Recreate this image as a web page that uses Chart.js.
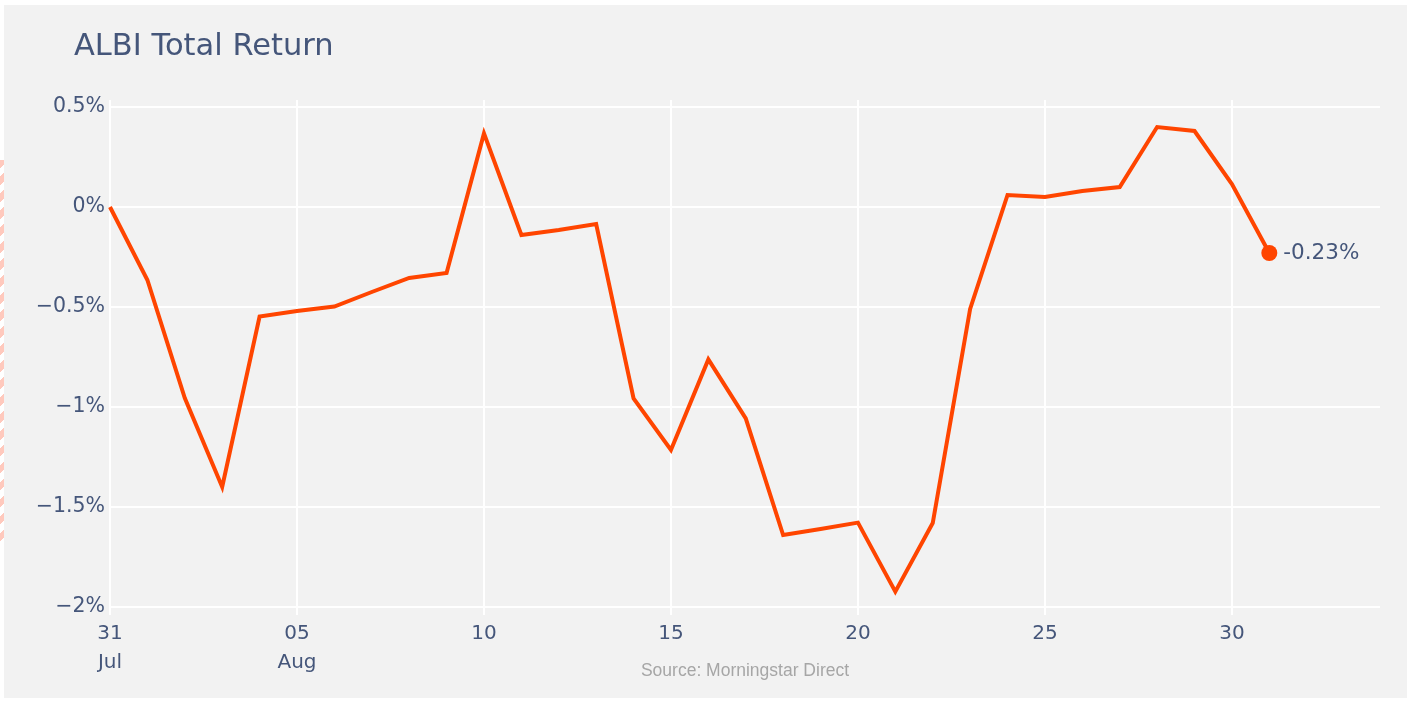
<!DOCTYPE html>
<html>
<head>
<meta charset="utf-8">
<script src="https://cdn.jsdelivr.net/npm/chart.js@4/dist/chart.umd.min.js"></script>
<style>
  html, body { margin: 0; padding: 0; background: #ffffff; }
  #wrap { position: relative; width: 1413px; height: 702px; }
  #stripe { position: absolute; left: 0; top: 160px; width: 4px; height: 386px;
    background: repeating-linear-gradient(135deg, #ffc9bd 0 6px, #ffffff 6px 12px); }
  canvas { position: absolute; left: 0; top: 0; }
</style>
</head>
<body>
<div id="wrap">
  <canvas id="c" width="1413" height="702"></canvas>
  <div id="stripe"></div>
</div>
<script>
// ---- data ----
const dates = [
  "2023-07-31","2023-08-01","2023-08-02","2023-08-03","2023-08-04","2023-08-05","2023-08-06","2023-08-07",
  "2023-08-08","2023-08-09","2023-08-10","2023-08-11","2023-08-12","2023-08-13","2023-08-14","2023-08-15",
  "2023-08-16","2023-08-17","2023-08-18","2023-08-19","2023-08-20","2023-08-21","2023-08-22","2023-08-23",
  "2023-08-24","2023-08-25","2023-08-26","2023-08-27","2023-08-28","2023-08-29","2023-08-30","2023-08-31"
];
const totalReturn = [
  0, -0.365, -0.955, -1.40, -0.548, -0.52, -0.498, -0.425,
  -0.355, -0.33, 0.368, -0.14, -0.115, -0.085, -0.957, -1.215,
  -0.762, -1.057, -1.64, -1.61, -1.578, -1.923, -1.58, -0.51,
  0.06, 0.05, 0.08, 0.10, 0.40, 0.38, 0.115, -0.23
];
const xTickDays = [0, 5, 10, 15, 20, 25, 30];
const xTickLabels = [["31", "Jul"], ["05", "Aug"], "10", "15", "20", "25", "30"];
const yTickValues = [0.5, 0, -0.5, -1, -1.5, -2];
const yTickLabels = ["0.5%", "0%", "\u22120.5%", "\u22121%", "\u22121.5%", "\u22122%"];
const chartTitle = "ALBI Total Return";
const sourceNote = "Source: Morningstar Direct";

// ---- build ----
const t0 = Date.parse(dates[0] + "T00:00:00Z");
const points = dates.map((d, i) => ({ x: (Date.parse(d + "T00:00:00Z") - t0) / 86400000, y: totalReturn[i] }));
const lastIdx = points.length - 1;

const FONT = "'DejaVu Sans', Verdana, sans-serif";
const TXT = "#45567a";

const bgPlugin = {
  id: 'bg',
  beforeDraw(chart) {
    const ctx = chart.ctx;
    ctx.save();
    ctx.fillStyle = "#f2f2f2";
    ctx.fillRect(4, 5, 1403, 693);
    ctx.restore();
  }
};

const textPlugin = {
  id: 'texts',
  afterDraw(chart) {
    const ctx = chart.ctx;
    const ca = chart.chartArea;
    ctx.save();
    ctx.fillStyle = TXT;
    ctx.font = "30.5px " + FONT;
    ctx.textBaseline = "alphabetic";
    ctx.textAlign = "left";
    ctx.fillText(chartTitle, 74, 55);

    ctx.fillStyle = "#a6a6a6";
    ctx.font = "17.5px 'Liberation Sans', Arial, sans-serif";
    ctx.textAlign = "center";
    ctx.textBaseline = "middle";
    ctx.fillText(sourceNote, (ca.left + ca.right) / 2, 671);

    const meta = chart.getDatasetMeta(0);
    const el = meta.data[lastIdx];
    const v = totalReturn[lastIdx];
    ctx.fillStyle = TXT;
    ctx.font = "21.5px " + FONT;
    ctx.textAlign = "left";
    ctx.textBaseline = "middle";
    ctx.fillText((v < 0 ? "-" : "") + Math.abs(v).toFixed(2) + "%", el.x + 14, el.y);
    ctx.restore();
  }
};

new Chart(document.getElementById('c'), {
  type: 'line',
  data: {
    datasets: [{
      data: points,
      borderColor: "#ff4500",
      backgroundColor: "#ff4500",
      borderWidth: 4,
      tension: 0,
      pointRadius: (ctx) => ctx.dataIndex === lastIdx ? 8 : 0,
      pointHoverRadius: (ctx) => ctx.dataIndex === lastIdx ? 8 : 0,
      pointBorderWidth: 0,
      clip: false
    }]
  },
  options: {
    responsive: false,
    animation: false,
    events: [],
    layout: { padding: { top: 100, right: 33, bottom: 0, left: 0 } },
    plugins: { legend: { display: false }, tooltip: { enabled: false }, title: { display: false } },
    scales: {
      x: {
        type: 'linear',
        min: 0,
        max: 33.96,
        afterBuildTicks(scale) { scale.ticks = xTickDays.map(v => ({ value: v })); },
        afterFit(scale) { scale.height = 87; },
        ticks: {
          autoSkip: false,
          maxRotation: 0,
          padding: 4,
          color: TXT,
          font: { family: FONT, size: 20, lineHeight: 1.45 },
          callback: (v) => { const i = xTickDays.indexOf(v); return i >= 0 ? xTickLabels[i] : ""; }
        },
        grid: { color: "#ffffff", lineWidth: 2, drawTicks: false },
        border: { display: false }
      },
      y: {
        type: 'linear',
        min: -2.04,
        max: 0.535,
        afterBuildTicks(scale) { scale.ticks = yTickValues.map(v => ({ value: v })); },
        afterFit(scale) { scale.width = 110; },
        ticks: {
          padding: 5,
          color: TXT,
          font: { family: FONT, size: 20.5 },
          callback: (v) => { const i = yTickValues.indexOf(v); return i >= 0 ? yTickLabels[i] : ""; }
        },
        grid: { color: "#ffffff", lineWidth: 2, drawTicks: false },
        border: { display: false }
      }
    }
  },
  plugins: [bgPlugin, textPlugin]
});
</script>
</body>
</html>
